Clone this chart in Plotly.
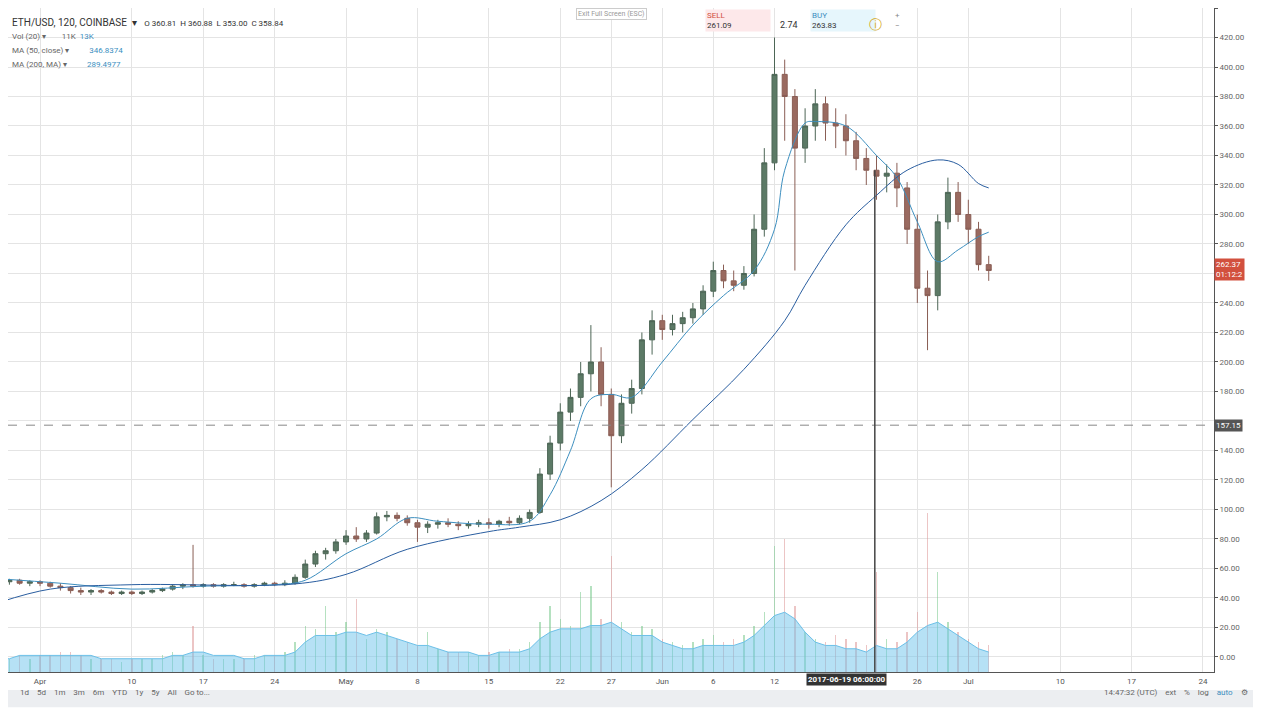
import pandas as pd
import plotly.graph_objects as go

# daily ETH/USD candles (open, high, low, close)
days = pd.date_range("2017-03-28", "2017-07-03", freq="D")
opens = [50, 51, 52, 50, 51, 50, 48, 47, 45, 44, 45, 44, 43, 44, 43, 44, 45, 46, 48, 49,
         48, 49, 48, 49, 49, 48, 49, 50, 49, 50, 54, 63, 70, 72, 78, 82, 80, 84, 95, 96,
         94, 91, 88, 90, 91, 90, 89, 90, 91, 90, 92, 91, 94, 98, 124, 145, 166, 176, 192, 200,
         178, 150, 172, 182, 215, 228, 222, 226, 230, 236, 248, 262, 255, 252, 260, 290, 335, 395, 380, 345,
         360, 375, 362, 360, 350, 338, 330, 326, 328, 318, 290, 250, 245, 295, 315, 300, 290, 266]
highs = [52, 53, 53, 52, 52, 51, 50, 48, 47, 46, 46, 45, 45, 45, 45, 46, 47, 49, 50, 76,
         50, 50, 50, 51, 50, 50, 51, 51, 52, 56, 66, 72, 74, 80, 86, 88, 86, 98, 99, 98,
         96, 93, 92, 93, 94, 92, 92, 93, 94, 93, 95, 96, 100, 128, 150, 172, 182, 200, 225, 210,
         182, 178, 188, 220, 235, 232, 232, 234, 240, 252, 268, 266, 262, 265, 300, 345, 420, 405, 385, 372,
         385, 380, 372, 368, 356, 345, 340, 334, 335, 322, 300, 262, 300, 325, 322, 310, 295, 272]
lows = [48, 49, 49, 48, 48, 47, 45, 43, 42, 42, 43, 42, 42, 42, 42, 43, 44, 45, 46, 47,
        47, 47, 47, 48, 47, 47, 48, 48, 48, 49, 53, 61, 66, 70, 76, 78, 78, 83, 92, 92,
        89, 78, 84, 87, 88, 86, 87, 88, 87, 88, 89, 90, 91, 97, 120, 140, 160, 170, 180, 170,
        115, 145, 165, 178, 205, 215, 218, 220, 226, 232, 244, 250, 248, 249, 258, 285, 330, 350, 262, 335,
        350, 350, 345, 340, 330, 320, 310, 315, 305, 280, 240, 208, 235, 290, 295, 280, 262, 255]
closes = [51, 52, 50, 51, 50, 48, 47, 45, 44, 45, 44, 43, 44, 43, 44, 45, 46, 48, 49, 48,
          49, 48, 49, 49, 48, 49, 50, 49, 50, 54, 63, 70, 72, 78, 82, 80, 84, 95, 96, 94,
          91, 88, 90, 91, 90, 89, 90, 91, 90, 92, 91, 94, 98, 124, 145, 166, 176, 192, 200, 178,
          150, 172, 182, 215, 228, 222, 226, 230, 236, 248, 262, 255, 252, 260, 290, 335, 395, 380, 345, 360,
          375, 362, 360, 350, 338, 330, 326, 328, 318, 290, 250, 245, 295, 315, 300, 290, 266, 262]
volumes = [5, 4, 5, 4, 5, 5, 6, 6, 5, 4, 4, 4, 3, 4, 4, 4, 5, 6, 5, 14,
           5, 4, 4, 4, 4, 5, 5, 5, 6, 9, 14, 13, 20, 12, 15, 22, 10, 13, 12, 10,
           9, 8, 12, 7, 6, 6, 6, 5, 6, 6, 7, 7, 9, 15, 20, 16, 14, 24, 26, 16,
           35, 15, 12, 14, 13, 10, 9, 8, 9, 10, 11, 9, 10, 11, 14, 18, 38, 40, 20, 12,
           10, 9, 11, 10, 9, 8, 30, 10, 9, 12, 18, 48, 30, 15, 12, 10, 9, 8]

ma50_dates = ["2017-03-28", "2017-04-03", "2017-04-10", "2017-04-17", "2017-04-24", "2017-04-27",
              "2017-05-01", "2017-05-04", "2017-05-07", "2017-05-10", "2017-05-15", "2017-05-19",
              "2017-05-21", "2017-05-23", "2017-05-25", "2017-05-27", "2017-05-29", "2017-06-01",
              "2017-06-04", "2017-06-07", "2017-06-10", "2017-06-12", "2017-06-13", "2017-06-15",
              "2017-06-16", "2017-06-19", "2017-06-22", "2017-06-24", "2017-06-26", "2017-06-28",
              "2017-06-30", "2017-07-02", "2017-07-03"]
ma50 = [53, 50, 46, 48, 49, 52, 70, 80, 94, 92, 90, 92, 110, 140, 175, 178, 176, 200,
        225, 245, 262, 290, 330, 362, 363, 360, 340, 325, 295, 268, 276, 285, 288]

ma200_dates = ["2017-03-28", "2017-04-02", "2017-04-10", "2017-04-26", "2017-05-01", "2017-05-07",
               "2017-05-15", "2017-05-18", "2017-05-22", "2017-05-26", "2017-05-30", "2017-06-04",
               "2017-06-09", "2017-06-13", "2017-06-15", "2017-06-19", "2017-06-22", "2017-06-25",
               "2017-06-28", "2017-06-30", "2017-07-02", "2017-07-03"]
ma200 = [37, 46, 49, 49.5, 56, 73, 85, 88, 93, 106, 127, 161, 195, 228, 252, 293, 313, 330,
         337, 334, 321, 318]

vol_ma = [4, 4, 5, 5, 5, 5, 5, 5, 5, 5, 4, 4, 4, 4, 4, 4, 4, 5, 5, 6,
          6, 5, 5, 5, 4, 4, 5, 5, 5, 6, 9, 11, 11, 11, 12, 12, 11, 12, 11, 10,
          9, 8, 8, 7, 6, 6, 6, 5, 5, 6, 6, 6, 7, 10, 12, 13, 13, 13, 14, 14,
          15, 13, 11, 11, 11, 9, 8, 7, 7, 8, 8, 8, 8, 9, 11, 14, 17, 18, 16, 12,
          9, 8, 8, 7, 7, 6, 8, 7, 7, 9, 12, 14, 15, 13, 11, 9, 7, 6]

tick_dates = ["2017-04-01", "2017-04-10", "2017-04-17", "2017-04-24", "2017-05-01", "2017-05-08",
              "2017-05-15", "2017-05-22", "2017-05-27", "2017-06-01", "2017-06-06", "2017-06-12",
              "2017-06-26", "2017-07-01", "2017-07-10", "2017-07-17", "2017-07-24"]
tick_text = ["Apr", "10", "17", "24", "May", "8", "15", "22", "27", "Jun", "6", "12",
             "26", "Jul", "10", "17", "24"]
price_ticks = list(range(0, 441, 20))
hidden_ticks = [160, 260]  # covered by the price labels in the reference
last_close = 262.37
dashed_level = 157.15
crosshair = "2017-06-21 20:00"
crosshair_top = 330

vol_colors = ["rgba(120,200,140,0.55)" if c >= o else "rgba(220,150,150,0.55)"
              for o, c in zip(opens, closes)]

fig = go.Figure()
fig.add_trace(go.Bar(x=days, y=volumes, marker_color=vol_colors, marker_line_width=0,
                     yaxis="y2", width=3.5 * 3600 * 1000, showlegend=False))
fig.add_trace(go.Scatter(x=days, y=vol_ma, yaxis="y2", mode="lines", line=dict(color="#6cc0e8", width=1),
                         fill="tozeroy", fillcolor="rgba(110,195,235,0.5)", showlegend=False))
fig.add_trace(go.Candlestick(x=days, open=opens, high=highs, low=lows, close=closes,
                             increasing=dict(line=dict(color="#4d6656", width=1), fillcolor="#5c7a66"),
                             decreasing=dict(line=dict(color="#8a5e55", width=1), fillcolor="#9a6a60"),
                             whiskerwidth=0, showlegend=False))
fig.add_trace(go.Scatter(x=ma50_dates, y=ma50, mode="lines", line=dict(color="#3d8fbf", width=1, shape="spline"),
                         showlegend=False))
fig.add_trace(go.Scatter(x=ma200_dates, y=ma200, mode="lines", line=dict(color="#2a5ea0", width=1, shape="spline"),
                         showlegend=False))

fig.add_hline(y=dashed_level, line=dict(color="#888", width=1, dash="dash"))
fig.add_shape(type="line", xref="x", yref="y", x0=crosshair, x1=crosshair, y0=-10.2, y1=crosshair_top,
              line=dict(color="#444", width=1.5))

fig.update_layout(
    width=1253, height=702, paper_bgcolor="white", plot_bgcolor="white",
    margin=dict(l=0, r=47, t=0, b=38),
    font=dict(family="Roboto, Arial", size=8, color="#555"),
    xaxis=dict(type="date", range=["2017-03-28 20:40", "2017-07-25 02:00"], rangeslider=dict(visible=False),
               tickvals=tick_dates, ticktext=tick_text, showgrid=True, gridcolor="#e4e4e4",
               showline=True, linecolor="#555", ticks="", ticklabelstandoff=1,
               tickfont=dict(size=8, color="#555")),
    yaxis=dict(side="right", range=[-10.2, 440], tickvals=price_ticks,
               ticktext=["" if v in hidden_ticks else f"{v:.2f}" for v in price_ticks],
               showgrid=True, gridcolor="#e4e4e4",
               showline=True, linecolor="#555", ticks="outside", ticklen=3, tickcolor="#555",
               zeroline=False, tickfont=dict(size=8, color="#666")),
    yaxis2=dict(overlaying="y", range=[0, 200], visible=False),
    bargap=0,
)

# price labels on the right axis
fig.add_annotation(x=1, xref="paper", y=last_close, yref="y", xanchor="left", showarrow=False,
                   text="262.37<br>01:12:2", bgcolor="#d2503e", font=dict(color="white", size=8), align="left")
fig.add_annotation(x=1, xref="paper", y=dashed_level, yref="y", xanchor="left", showarrow=False,
                   text="157.15", bgcolor="#555", font=dict(color="white", size=8))
fig.add_annotation(x=crosshair, xref="x", y=-0.002, yref="paper", yanchor="top", showarrow=False, xshift=-28,
                   text="<b>2017-06-19 06:00:00</b>", bgcolor="#333", font=dict(color="white", size=8))

# legend lines at top left
legend_lines = [
    ("ETH/USD, 120, COINBASE  ▾   <span style='font-size:8px'>O 360.81  H 360.88  L 353.00  C 358.84</span>", 10, "#333", 0.989),
    ("Vol (20) ▾        11K  <span style='color:#3d8fbf'>13K</span>", 8, "#666", 0.967),
    ("MA (50, close) ▾          <span style='color:#3d8fbf'>346.8374</span>", 8, "#666", 0.946),
    ("MA (200, MA) ▾          <span style='color:#3d8fbf'>289.4977</span>", 8, "#666", 0.925),
]
for txt, size, col, yy in legend_lines:
    fig.add_annotation(x=0.002, xref="paper", y=yy, yref="paper", xanchor="left",
                       showarrow=False, text=txt, font=dict(size=size, color=col))

fig.add_annotation(x=0.5, xref="paper", y=1.0, yref="paper", yanchor="top", showarrow=False,
                   text="Exit Full Screen (ESC)", font=dict(size=7, color="#999"),
                   bordercolor="#ccc", borderwidth=1, bgcolor="white")
fig.add_annotation(x=0.578, xref="paper", y=0.998, yref="paper", yanchor="top", xanchor="left", showarrow=False,
                   text="SELL<br><span style='color:#333'>261.09</span>", align="left",
                   font=dict(size=8, color="#d2503e"), bgcolor="#fde8ea", width=62)
fig.add_annotation(x=0.648, xref="paper", y=0.985, yref="paper", yanchor="top", showarrow=False,
                   text="2.74", font=dict(size=9, color="#333"))
fig.add_annotation(x=0.665, xref="paper", y=0.998, yref="paper", yanchor="top", xanchor="left", showarrow=False,
                   text="BUY<br><span style='color:#333'>263.83</span>", align="left",
                   font=dict(size=8, color="#3d8fbf"), bgcolor="#e6f6fc", width=62)
fig.add_annotation(x=0.726, xref="paper", y=0.99, yref="paper", yanchor="top", showarrow=False,
                   text="ⓘ", font=dict(size=13, color="#d4a820"))
fig.add_annotation(x=0.741, xref="paper", y=0.998, yref="paper", yanchor="top", showarrow=False,
                   text="+<br>−", font=dict(size=8, color="#888"))

# bottom toolbar
fig.add_shape(type="rect", xref="paper", yref="paper", x0=0, x1=1.035, y0=-0.053, y1=-0.027,
              fillcolor="#eceef1", line=dict(width=0))
fig.add_annotation(x=0.008, xref="paper", y=-0.04, yref="paper", xanchor="left", showarrow=False,
                   text="1d    5d    1m    3m    6m    YTD    1y    5y    All    Go to...",
                   font=dict(size=8, color="#666"))
fig.add_annotation(x=1.03, xref="paper", y=-0.04, yref="paper", xanchor="right", showarrow=False,
                   text="14:47:32 (UTC)    ext    %    log    <span style='color:#3d8fbf'>auto</span>    ⚙",
                   font=dict(size=8, color="#666"))

fig.write_html("out.html")
